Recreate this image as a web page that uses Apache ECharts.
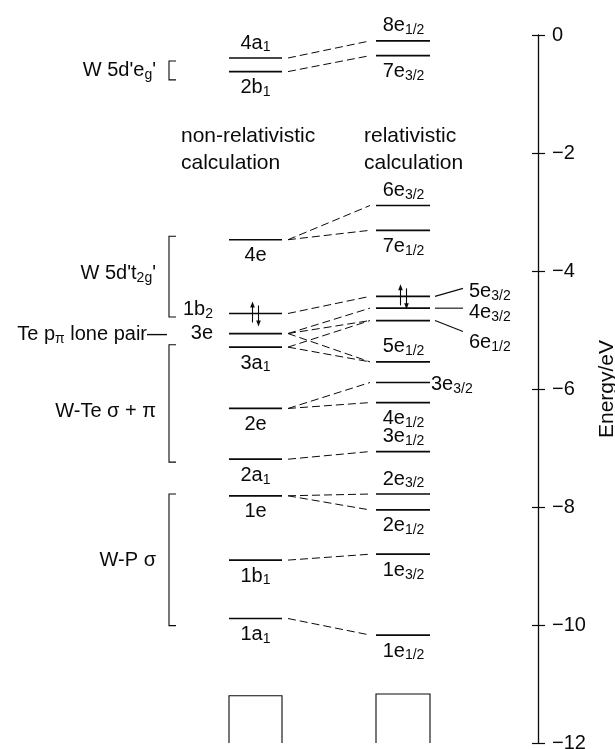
<!DOCTYPE html>
<html><head><meta charset="utf-8">
<script src="https://cdn.jsdelivr.net/npm/echarts@6/dist/echarts.min.js"></script>
<style>html,body{margin:0;padding:0;background:#fff}#c{width:615px;height:749px}</style>
</head><body><div id="c"></div>
<script>
// ---------------- data ----------------
const nonRelLevels = ['4a_{1}','2b_{1}','4e','1b_{2}','3e','3a_{1}','2e','2a_{1}','1e','1b_{1}','1a_{1}'];
const nonRelEnergy = [-0.39,-0.62,-3.47,-4.72,-5.06,-5.29,-6.33,-7.19,-7.81,-8.90,-9.89];
const relLevels = ['8e_{1/2}','7e_{3/2}','6e_{3/2}','7e_{1/2}','5e_{3/2}','4e_{3/2}','6e_{1/2}','5e_{1/2}','3e_{3/2}','4e_{1/2}','3e_{1/2}','2e_{3/2}','2e_{1/2}','1e_{3/2}','1e_{1/2}'];
const relEnergy = [-0.10,-0.35,-2.89,-3.31,-4.43,-4.63,-4.84,-5.54,-5.89,-6.23,-7.06,-7.78,-8.05,-8.80,-10.17];
const correlFrom = ['4a_{1}','2b_{1}','4e','4e','1b_{2}','3e','3e','3e','3a_{1}','3a_{1}','2e','2e','2a_{1}','1e','1e','1b_{1}','1a_{1}'];
const correlTo   = ['8e_{1/2}','7e_{3/2}','6e_{3/2}','7e_{1/2}','5e_{3/2}','4e_{3/2}','6e_{1/2}','5e_{1/2}','6e_{1/2}','5e_{1/2}','3e_{3/2}','4e_{1/2}','3e_{1/2}','2e_{3/2}','2e_{1/2}','1e_{3/2}','1e_{1/2}'];
const occupiedLevels = ['1b_{2}','5e_{3/2}'];
const groupNames = ["W 5d'e_{g}'", "W 5d't_{2g}'", 'W-Te σ + π', 'W-P σ'];
const groupTop = [-0.44, -3.41, -5.25, -7.78];
const groupBottom = [-0.76, -4.78, -7.24, -10.01];
const groupLabelEnergy = [-0.60, -4.04, -6.38, -8.90];
const lonePairText = 'Te p_{π} lone pair—';
const lonePairLevel = '3e';
const continuumTop = [-11.20, -11.17];
const headers = [['non-relativistic', 'calculation'], ['relativistic', 'calculation']];
const yMin = -12, yMax = 0, yStep = 2;
const axisTitle = 'Energy/eV';

// ---------------- layout / style ----------------
const INK = '#0a0a0a';
const FONT = '"Liberation Sans", Arial, Helvetica, sans-serif';
const COL = [{x0:229, x1:282, cx:255.5}, {x0:376, x1:430, cx:403.5}];
const CONN_X = [288, 370];
const nonRelPlace = ['above','below','below','left','left','below','below','below','below','below','below'];
const relPlace = ['above','below','above','below','lead','lead','lead','above','right','below','above','above','below','below','below'];
const LEAD = {'5e_{3/2}': [-8, -5], '4e_{3/2}': [0, 4], '6e_{1/2}': [11, 22]};
const LFS = 20;

function toRich(s){
  let out = '', last = 0, m; const re = /_\{([^}]*)\}/g;
  while ((m = re.exec(s))) {
    if (m.index > last) out += '{m|' + s.slice(last, m.index) + '}';
    out += '{s|' + m[1] + '}'; last = re.lastIndex;
  }
  if (last < s.length) out += '{m|' + s.slice(last) + '}';
  return out;
}
function richFor(size){
  return {
    m: {fontSize: size, fontFamily: FONT, fill: INK},
    s: {fontSize: Math.round(size * 0.7), fontFamily: FONT, fill: INK, padding: [Math.round(size * 0.45), 0, 0, 0]}
  };
}

const levels = [];
nonRelLevels.forEach((n, i) => levels.push({col: 0, name: n, E: nonRelEnergy[i], place: nonRelPlace[i]}));
relLevels.forEach((n, i) => levels.push({col: 1, name: n, E: relEnergy[i], place: relPlace[i]}));
const energyOf = {};
levels.forEach(l => { energyOf[l.col + ':' + l.name] = l.E; });
const levelByName = (n) => levels.find(l => l.name === n);

const chart = echarts.init(document.getElementById('c'), null, {renderer: 'canvas'});

const levelSeries = {
  type: 'custom', silent: true, clip: false, animation: false,
  data: levels.map(l => [COL[l.col].cx, l.E]),
  renderItem(params, api){
    const L = levels[params.dataIndex];
    const c = COL[L.col];
    const p0 = api.coord([c.x0, L.E]), p1 = api.coord([c.x1, L.E]);
    const y = p0[1];
    const cx = api.coord([c.cx, L.E])[0];
    const children = [{type: 'line', shape: {x1: p0[0], y1: y, x2: p1[0], y2: y}, style: {stroke: INK, lineWidth: 1.7}}];
    let tx = cx, ty = y, align = 'center';
    if (L.place === 'above') ty = y - 15;
    else if (L.place === 'below') ty = y + 16;
    else if (L.place === 'left') { tx = p0[0] - 16; align = 'right'; ty = y - 4; }
    else if (L.place === 'right') { tx = p1[0] + 1; align = 'left'; ty = y + 2; }
    else if (L.place === 'lead') {
      const d = LEAD[L.name];
      children.push({type: 'line', shape: {x1: p1[0] + 5, y1: y, x2: p1[0] + 33, y2: y + d[0]}, style: {stroke: INK, lineWidth: 1.1}});
      tx = p1[0] + 39; align = 'left'; ty = y + d[1];
    }
    if (L.name === '3e' && L.col === 0) ty = y;
    children.push({type: 'text', x: tx, y: ty, style: {text: toRich(L.name), rich: richFor(LFS), align: align, verticalAlign: 'middle'}});
    return {type: 'group', children};
  }
};

const connSeries = {
  type: 'custom', silent: true, clip: false, animation: false,
  data: correlFrom.map((f, i) => [energyOf['0:' + f], energyOf['1:' + correlTo[i]]]),
  renderItem(params, api){
    const a = api.coord([CONN_X[0], api.value(0)]);
    const b = api.coord([CONN_X[1], api.value(1)]);
    return {type: 'line', shape: {x1: a[0], y1: a[1], x2: b[0], y2: b[1]}, style: {stroke: INK, lineWidth: 1, lineDash: [8, 4]}};
  }
};

const spinSeries = {
  type: 'custom', silent: true, clip: false, animation: false,
  data: occupiedLevels.map(n => { const l = levelByName(n); return [COL[l.col].cx, l.E]; }),
  renderItem(params, api){
    const p = api.coord([api.value(0), api.value(1)]);
    const xu = p[0] - 3, xd = p[0] + 3, y = p[1];
    const st = {stroke: INK, lineWidth: 1.1};
    return {type: 'group', children: [
      {type: 'line', shape: {x1: xu, y1: y + 9, x2: xu, y2: y - 9}, style: st},
      {type: 'polygon', shape: {points: [[xu, y - 12], [xu - 2.3, y - 6], [xu + 2.3, y - 6]]}, style: {fill: INK}},
      {type: 'line', shape: {x1: xd, y1: y - 8, x2: xd, y2: y + 10}, style: st},
      {type: 'polygon', shape: {points: [[xd, y + 13], [xd - 2.3, y + 7], [xd + 2.3, y + 7]]}, style: {fill: INK}}
    ]};
  }
};

const BRX = 169, BRT = 176, GTX = 156;
const groupSeries = {
  type: 'custom', silent: true, clip: false, animation: false,
  data: groupNames.map((n, i) => [groupTop[i], groupBottom[i], groupLabelEnergy[i]]),
  renderItem(params, api){
    const i = params.dataIndex;
    const t = api.coord([BRX, api.value(0)]), b = api.coord([BRX, api.value(1)]);
    const tt = api.coord([BRT, api.value(0)]);
    const lab = api.coord([GTX, api.value(2)]);
    return {type: 'group', children: [
      {type: 'polyline', shape: {points: [[tt[0], t[1]], [t[0], t[1]], [b[0], b[1]], [tt[0], b[1]]]}, style: {stroke: INK, lineWidth: 1.1, fill: null}},
      {type: 'text', x: lab[0], y: lab[1], style: {text: toRich(groupNames[i]), rich: richFor(20), align: 'right', verticalAlign: 'middle'}}
    ]};
  }
};

const loneSeries = {
  type: 'custom', silent: true, clip: false, animation: false,
  data: [[167, levelByName(lonePairLevel).E]],
  renderItem(params, api){
    const p = api.coord([api.value(0), api.value(1)]);
    return {type: 'text', x: p[0], y: p[1] + 1, style: {text: toRich(lonePairText), rich: richFor(20), align: 'right', verticalAlign: 'middle'}};
  }
};

const boxSeries = {
  type: 'custom', silent: true, clip: false, animation: false,
  data: continuumTop.map((e, i) => [i, e]),
  renderItem(params, api){
    const c = COL[api.value(0)];
    const a = api.coord([c.x0, api.value(1)]), b = api.coord([c.x1, yMin]);
    return {type: 'polyline', shape: {points: [[a[0], b[1]], [a[0], a[1]], [b[0], a[1]], [b[0], b[1]]]}, style: {stroke: INK, lineWidth: 1.1, fill: null}};
  }
};

const HEADER_X = [181, 364], HEADER_Y = [136, 163];
const graphics = [];
headers.forEach((h, i) => h.forEach((line, j) => graphics.push({
  type: 'text', x: HEADER_X[i], y: HEADER_Y[j], silent: true,
  style: {text: line, fontSize: 21, fontFamily: FONT, fill: INK, align: 'left', verticalAlign: 'middle'}
})));

chart.setOption({
  backgroundColor: '#fff',
  animation: false,
  grid: {left: 0, right: 77, top: 35, bottom: 6, containLabel: false, outerBoundsMode: 'none'},
  xAxis: {type: 'value', min: 0, max: 538, show: false},
  yAxis: [
    {type: 'value', position: 'right', min: yMin, max: yMax, interval: yStep,
     name: axisTitle, nameLocation: 'middle', nameGap: 58, nameRotate: 90,
     nameTextStyle: {fontSize: 21, fontFamily: FONT, color: INK},
     axisLine: {show: true, onZero: false, lineStyle: {color: INK, width: 1.3}},
     axisTick: {show: true, inside: false, length: 7, lineStyle: {color: INK, width: 1.2}},
     axisLabel: {margin: 14, fontSize: 20, fontFamily: FONT, color: INK, formatter: v => v < 0 ? '\u2212' + (-v) : String(v)},
     splitLine: {show: false}},
    {type: 'value', position: 'right', min: yMin, max: yMax, interval: yStep,
     axisLine: {show: false, onZero: false}, axisLabel: {show: false}, splitLine: {show: false},
     axisTick: {show: true, inside: true, length: 6, lineStyle: {color: INK, width: 1.2}}}
  ],
  graphic: graphics,
  series: [levelSeries, connSeries, spinSeries, groupSeries, loneSeries, boxSeries]
});
</script></body></html>
